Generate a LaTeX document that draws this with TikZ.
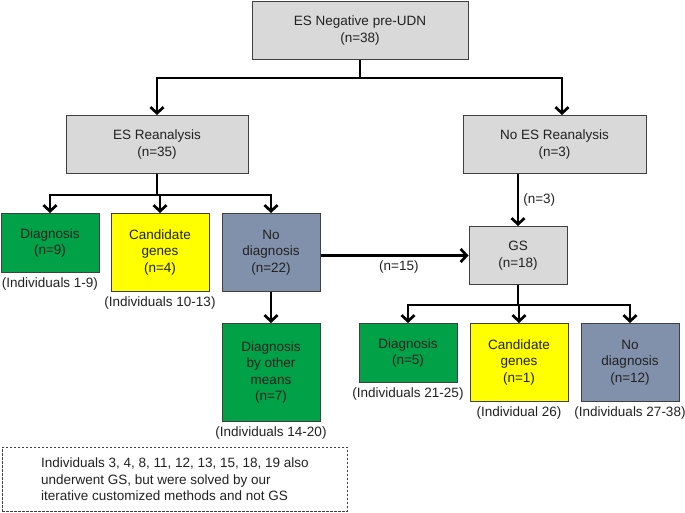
\documentclass[tikz,border=0pt]{standalone}
\usepackage{fontspec}
\setmainfont{Liberation Sans}
\usepackage{xcolor}
\definecolor{udnGrey}{rgb}{0.85,0.85,0.85}
\definecolor{udnGreen}{rgb}{0,0.63,0.28}
\definecolor{udnYellow}{rgb}{1,1,0}
\definecolor{udnSlate}{rgb}{0.51,0.57,0.67}
\definecolor{udnBorder}{rgb}{0.25,0.25,0.25}
\definecolor{udnText}{rgb}{0.13,0.13,0.13}
\usepackage{tikz}
\usetikzlibrary{arrows.meta}
\usetikzlibrary{positioning}
\tikzstyle{UDN} = [draw=udnBorder, line width=1pt, text=udnText, align=center,
        font={\fontsize{13.5}{16.5}\selectfont}, inner sep=0pt, anchor=north]
\tikzstyle{stage} = [UDN, fill=udnGrey, minimum height=58pt]
\tikzstyle{outcome} = [UDN, minimum width=98pt]
\tikzstyle{solved} = [outcome, fill=udnGreen]
\tikzstyle{candidate} = [outcome, fill=udnYellow]
\tikzstyle{unsolved} = [outcome, fill=udnSlate]
\tikzstyle{caption} = [font={\fontsize{13.5}{16.5}\selectfont}, text=udnText, inner sep=0pt]
\tikzstyle{count} = [caption, inner sep=4pt]
\tikzstyle{trunk} = [line width=2.7pt, black]
\tikzstyle{flow} = [trunk, ->]
\tikzstyle{note} = [draw=udnBorder, line width=0.8pt, dash pattern=on 2.5pt off 1.5pt,
        font={\fontsize{13.5}{16.5}\selectfont}, text=udnText, align=left,
        inner sep=0pt, minimum width=345pt, minimum height=64pt, anchor=north west]

\begin{document}
\begin{tikzpicture}[x=1pt, y=-1pt, >={Straight Barb[length=6pt,width=13pt]}]
    \useasboundingbox (0,0) rectangle (685,513);

    % stages
    \node [stage, minimum width=216pt] (pre) at (360,1) {ES Negative pre-UDN\\(n=38)};
    \node [stage, minimum width=182pt] (reana) at (157,115) {ES Reanalysis\\(n=35)};
    \node [stage, minimum width=183pt] (noreana) at (554.5,115) {No ES Reanalysis\\(n=3)};
    \node [stage, minimum width=98pt] (gs) at (518,226) {GS\\(n=18)};

    % outcomes after reanalysis
    \node [solved, minimum height=59pt] (diag) at (50,213) {Diagnosis\\(n=9)};
    \node [candidate, minimum height=78pt] (cand) at (160,213) {Candidate\\genes\\(n=4)};
    \node [unsolved, minimum height=78pt] (nodiag) at (271,213) {No\\diagnosis\\(n=22)};
    \node [solved, minimum height=98pt] (other) at (271,323) {Diagnosis\\by other\\means\\(n=7)};

    % outcomes after GS
    \node [solved, minimum height=59pt] (gsdiag) at (408,323) {Diagnosis\\(n=5)};
    \node [candidate, minimum height=78pt] (gscand) at (519,323) {Candidate\\genes\\(n=1)};
    \node [unsolved, minimum height=78pt] (gsnodiag) at (630,323) {No\\diagnosis\\(n=12)};

    \node [caption, below=5pt of diag] (capdiag) {(Individuals 1-9)};
    \node [caption, below=5pt of cand] (capcand) {(Individuals 10-13)};
    \node [caption, below=5pt of other] (capother) {(Individuals 14-20)};
    \node [caption, below=5pt of gsdiag] (capgsdiag) {(Individuals 21-25)};
    \node [caption, below=5pt of gscand] (capgscand) {(Individual 26)};
    \node [caption, below=5pt of gsnodiag] (capgsnodiag) {(Individuals 27-38)};

    \node [note] (remark) at (2,447) {Individuals 3, 4, 8, 11, 12, 13, 15, 18, 19 also\\
        underwent GS, but were solved by our\\iterative customized methods and not GS};

    % connectors
    \draw [trunk] (pre.south) -- ++(0,18) coordinate (fork0);
    \draw [flow] (fork0) -| (reana.north);
    \draw [flow] (fork0) -| ([xshift=7.5pt]noreana.north);

    \draw [trunk] (reana.south) -- ++(0,21) coordinate (fork1);
    \draw [flow] (fork1) -| (diag.north);
    \draw [flow] (fork1) -| (cand.north);
    \draw [flow] (fork1) -| (nodiag.north);

    \draw [flow] (nodiag) -- (other);
    \draw [flow] (nodiag.east |- gs.west) -- node [count, below, pos=0.53] {(n=15)} (gs.west);
    \draw [flow] (noreana.south -| gs.north) -- node [count, right] {(n=3)} (gs.north);

    \draw [trunk] (gs.south) -- ++(0,20) coordinate (fork2);
    \draw [flow] (fork2) -| (gsdiag.north);
    \draw [flow] (fork2) -| (gscand.north);
    \draw [flow] (fork2) -| (gsnodiag.north);
\end{tikzpicture}
\end{document}
